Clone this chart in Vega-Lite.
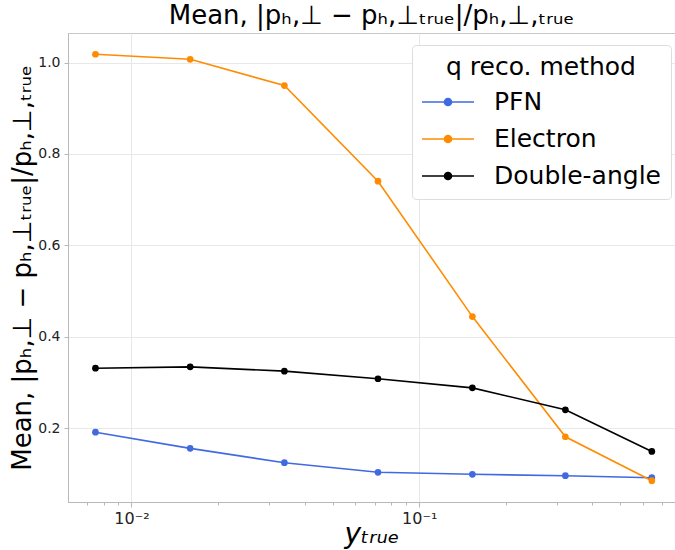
{
  "$schema": "https://vega.github.io/schema/vega-lite/v6.json",
  "autosize": {"type": "none"},
  "padding": {"left": 68, "top": 33, "right": 0, "bottom": 48},
  "width": 607,
  "height": 469,
  "background": "white",
  "config": {
    "font": "DejaVu Sans",
    "view": {"stroke": "#c8c8c8", "strokeWidth": 1},
    "axis": {"labelFont": "DejaVu Sans", "titleFont": "DejaVu Sans", "labelColor": "#222222", "titleColor": "#000000", "titleFontWeight": "normal", "domainColor": "#b8b8b8", "tickColor": "#b8b8b8", "gridColor": "#e8e8e8"}
  },
  "title": {
    "text": "Mean, |pₕ,⊥ − pₕ,⊥ₜᵣᵤₑ|/pₕ,⊥,ₜᵣᵤₑ",
    "fontSize": 26,
    "fontWeight": "normal",
    "font": "DejaVu Sans",
    "color": "#000000",
    "anchor": "middle",
    "offset": 4
  },
  "data": {
    "values": [
      {"y_true": 0.0075, "value": 0.191, "method": "PFN"},
      {"y_true": 0.016, "value": 0.1556, "method": "PFN"},
      {"y_true": 0.034, "value": 0.1242, "method": "PFN"},
      {"y_true": 0.0719, "value": 0.1032, "method": "PFN"},
      {"y_true": 0.153, "value": 0.0988, "method": "PFN"},
      {"y_true": 0.322, "value": 0.0958, "method": "PFN"},
      {"y_true": 0.643, "value": 0.0914, "method": "PFN"},
      {"y_true": 0.0075, "value": 1.0182, "method": "Electron"},
      {"y_true": 0.016, "value": 1.0072, "method": "Electron"},
      {"y_true": 0.034, "value": 0.9497, "method": "Electron"},
      {"y_true": 0.0719, "value": 0.7403, "method": "Electron"},
      {"y_true": 0.153, "value": 0.444, "method": "Electron"},
      {"y_true": 0.322, "value": 0.181, "method": "Electron"},
      {"y_true": 0.643, "value": 0.0848, "method": "Electron"},
      {"y_true": 0.0075, "value": 0.331, "method": "Double-angle"},
      {"y_true": 0.016, "value": 0.334, "method": "Double-angle"},
      {"y_true": 0.034, "value": 0.3246, "method": "Double-angle"},
      {"y_true": 0.0719, "value": 0.308, "method": "Double-angle"},
      {"y_true": 0.153, "value": 0.288, "method": "Double-angle"},
      {"y_true": 0.322, "value": 0.24, "method": "Double-angle"},
      {"y_true": 0.643, "value": 0.1489, "method": "Double-angle"}
    ]
  },
  "mark": {"type": "line", "strokeWidth": 1.6, "point": {"filled": true, "size": 45, "opacity": 1}},
  "encoding": {
    "x": {
      "field": "y_true",
      "type": "quantitative",
      "scale": {"type": "log", "domain": [0.00602, 0.774], "nice": false, "zero": false},
      "axis": {
        "title": "yₜᵣᵤₑ",
        "titleFontSize": 28,
        "titleFontStyle": "italic",
        "titlePadding": -6,
        "values": [0.006, 0.007, 0.008, 0.009, 0.01, 0.02, 0.03, 0.04, 0.05, 0.06, 0.07, 0.08, 0.09, 0.1, 0.2, 0.3, 0.4, 0.5, 0.6, 0.7],
        "labelExpr": "datum.value == 0.01 ? '10⁻²' : (datum.value == 0.1 ? '10⁻¹' : '')",
        "labelFontSize": 16,
        "labelPadding": 3,
        "labelOverlap": false,
        "tickSize": {"condition": {"test": "datum.value == 0.01 || datum.value == 0.1", "value": 5}, "value": 3},
        "gridOpacity": {"condition": {"test": "datum.value == 0.01 || datum.value == 0.1", "value": 1}, "value": 0}
      }
    },
    "y": {
      "field": "value",
      "type": "quantitative",
      "scale": {"domain": [0.0382, 1.0647], "nice": false, "zero": false},
      "axis": {
        "title": "Mean, |pₕ,⊥ − pₕ,⊥ₜᵣᵤₑ|/pₕ,⊥,ₜᵣᵤₑ",
        "titleFontSize": 26,
        "titlePadding": 2,
        "values": [0.2, 0.4, 0.6, 0.8, 1.0],
        "format": ".1f",
        "labelFontSize": 14,
        "tickSize": 4,
        "labelPadding": 4
      }
    },
    "color": {
      "field": "method",
      "type": "nominal",
      "scale": {"domain": ["PFN", "Electron", "Double-angle"], "range": ["#4169E1", "#FF8C00", "#000000"]},
      "legend": {
        "title": "q reco. method",
        "orient": "none",
        "legendX": 344,
        "legendY": 12,
        "padding": 10,
        "fillColor": "white",
        "strokeColor": "#dddddd",
        "cornerRadius": 4,
        "titleFontSize": 25,
        "titleFontWeight": "normal",
        "titleColor": "#000000",
        "titleAnchor": "middle",
        "titleLimit": 400,
        "titlePadding": 8,
        "labelFontSize": 25,
        "labelLimit": 400,
        "labelColor": "#000000",
        "labelOffset": 32,
        "rowPadding": 10,
        "symbolOffset": 12,
        "symbolType": "M-2,0L2,0M-0.27,0A0.27,0.27,0,1,1,0.27,0A0.27,0.27,0,1,1,-0.27,0Z",
        "symbolSize": 676,
        "symbolStrokeWidth": 1.6,
        "encode": {
          "symbols": {"update": {"fill": {"scale": "color", "field": "value"}, "stroke": {"scale": "color", "field": "value"}, "opacity": {"value": 1}}}
        }
      }
    }
  }
}
